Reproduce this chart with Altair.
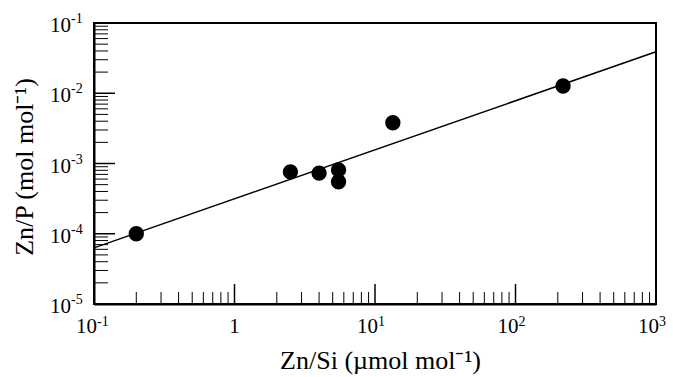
import altair as alt
import pandas as pd

# measured points
zn_si = [0.2, 2.5, 4.0, 5.5, 5.5, 13.4, 218]
zn_p = [1.0e-4, 7.6e-4, 7.3e-4, 8.1e-4, 5.5e-4, 3.8e-3, 1.27e-2]
# regression line end points
fit_x = [0.1, 1000]
fit_y = [6.3e-5, 3.9e-2]
# axis ticks and tick labels
x_decades = [0.1, 1, 10, 100, 1000]
x_label_base = ["10", "1", "10", "10", "10"]
x_label_exp = ["-1", "", "1", "2", "3"]
y_decades = [1e-5, 1e-4, 1e-3, 1e-2, 1e-1]
y_label_base = ["10", "10", "10", "10", "10"]
y_label_exp = ["-5", "-4", "-3", "-2", "-1"]
minor_mult = [2, 3, 4, 5, 6, 7, 8, 9]

x_minor = [d * m for d in x_decades[:-1] for m in minor_mult]
y_minor = [d * m for d in y_decades[:-1] for m in minor_mult]

W, H = 562, 281
FONT = "Liberation Serif"

df_pts = pd.DataFrame({"x": zn_si, "y": zn_p})
df_fit = pd.DataFrame({"x": fit_x, "y": fit_y})
df_xmaj = pd.DataFrame({"x": x_decades})
df_xmin = pd.DataFrame({"x": x_minor})
df_ymaj = pd.DataFrame({"y": y_decades})
df_ymin = pd.DataFrame({"y": y_minor})
df_xlab = pd.DataFrame({"x": x_decades, "base": x_label_base, "exp": x_label_exp})
df_xpow = df_xlab[df_xlab["exp"] != ""]
df_xplain = df_xlab[df_xlab["exp"] == ""]
df_ylab = pd.DataFrame({"y": y_decades, "base": y_label_base, "exp": y_label_exp})

xs = alt.Scale(type="log", domain=[0.1, 1000], nice=False)
ys = alt.Scale(type="log", domain=[1e-5, 1e-1], nice=False)

x_axis = alt.Axis(values=x_decades, labels=False, ticks=False, grid=False,
                  title="Zn/Si (µmol mol⁻¹)", titleY=64, titleBaseline="alphabetic",
                  titleX=W / 2 + 5, titleAlign="center")
y_axis = alt.Axis(values=y_decades, labels=False, ticks=False, grid=False,
                  title="Zn/P (mol mol⁻¹)", titleX=-62, titleY=H / 2 + 3,
                  titleBaseline="alphabetic", titleAlign="center", titleAngle=270)

line = alt.Chart(df_fit).mark_line(color="black", strokeWidth=1.5).encode(
    x=alt.X("x:Q", scale=xs, axis=x_axis),
    y=alt.Y("y:Q", scale=ys, axis=y_axis),
)
pts = alt.Chart(df_pts).mark_circle(size=235, color="black", opacity=1).encode(
    x=alt.X("x:Q", scale=xs),
    y=alt.Y("y:Q", scale=ys),
)
xmaj = alt.Chart(df_xmaj).mark_rule(color="black", strokeWidth=1.5).encode(
    x=alt.X("x:Q", scale=xs), y=alt.value(H), y2=alt.value(H - 20))
xmin = alt.Chart(df_xmin).mark_rule(color="black", strokeWidth=1).encode(
    x=alt.X("x:Q", scale=xs), y=alt.value(H), y2=alt.value(H - 12))
ymaj = alt.Chart(df_ymaj).mark_rule(color="black", strokeWidth=1.5).encode(
    y=alt.Y("y:Q", scale=ys), x=alt.value(0), x2=alt.value(21))
ymin = alt.Chart(df_ymin).mark_rule(color="black", strokeWidth=1).encode(
    y=alt.Y("y:Q", scale=ys), x=alt.value(0), x2=alt.value(14))

# tick labels (base + superscript exponent)
xbase = alt.Chart(df_xpow).mark_text(font=FONT, fontSize=21, align="right", baseline="alphabetic",
                                     dx=3, color="black").encode(
    x=alt.X("x:Q", scale=xs), y=alt.value(H + 29), text="base:N")
xexp = alt.Chart(df_xpow).mark_text(font=FONT, fontSize=14, align="left", baseline="alphabetic",
                                    dx=3, color="black").encode(
    x=alt.X("x:Q", scale=xs), y=alt.value(H + 22), text="exp:N")
xplain = alt.Chart(df_xplain).mark_text(font=FONT, fontSize=21, align="center", baseline="alphabetic",
                                        color="black").encode(
    x=alt.X("x:Q", scale=xs), y=alt.value(H + 29), text="base:N")
ybase = alt.Chart(df_ylab).mark_text(font=FONT, fontSize=21, align="right", baseline="alphabetic",
                                     dy=9, color="black").encode(
    y=alt.Y("y:Q", scale=ys), x=alt.value(-23), text="base:N")
yexp = alt.Chart(df_ylab).mark_text(font=FONT, fontSize=14, align="left", baseline="alphabetic",
                                    dy=0, color="black").encode(
    y=alt.Y("y:Q", scale=ys), x=alt.value(-23), text="exp:N")

chart = alt.layer(line, pts, xmaj, xmin, ymaj, ymin, xbase, xexp, xplain, ybase, yexp).properties(
    width=W, height=H,
    autosize=alt.AutoSizeParams(type="none"),
    padding={"left": 94, "top": 23, "right": 17, "bottom": 73},
    background="white",
).configure_view(
    stroke="black", strokeWidth=2
).configure_axis(
    domainColor="black", domainWidth=2,
    titleFont=FONT, titleFontSize=26, titleFontWeight="normal", titleColor="black",
)

chart.save("out.html", embed_options={"renderer": "svg", "actions": False})
